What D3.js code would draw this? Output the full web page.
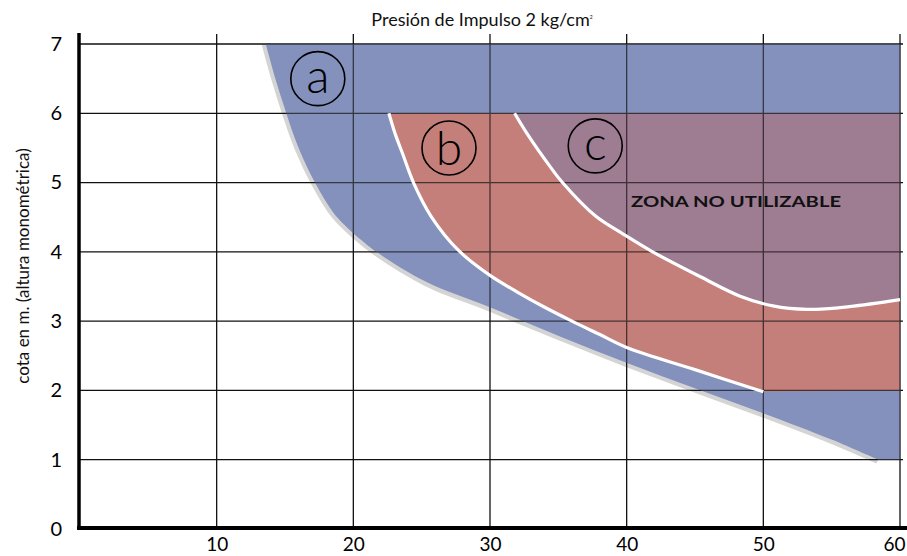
<!DOCTYPE html>
<html><head><meta charset="utf-8">
<script src="https://cdn.jsdelivr.net/npm/d3@7"></script>
<style>
html,body{margin:0;padding:0;background:#fff;}
svg{display:block;font-family:Lato,"Open Sans",sans-serif;}
</style></head>
<body>
<svg id="chart" width="907" height="556"></svg>
<script>
// ---- data ----
const xTicks = [10, 20, 30, 40, 50, 60];
const yTicks = [0, 1, 2, 3, 4, 5, 6, 7];
const title = "Presión de Impulso 2 kg/cm";
const yLabel = "cota en m. (altura monométrica)";
const zoneLabel = "ZONA NO UTILIZABLE";
// boundary of zone a (blue): upper and lower part (kink at x=20)
const curveAtop = [[13.6,7],[14.3,6.5],[15.1,6.0],[16.0,5.5],[17.2,5.0],[18.6,4.55],[20,4.27]];
const curveAbot = [[20,4.27],[21.7,4.0],[25.4,3.56],[30,3.2],[35,2.79],[40,2.40],[45,2.03],[50,1.67],[55,1.29],[58.4,1.0]];
const aEnd = [[60,1],[60,7]];
// boundary of zone b (red)
const curveB = [[22.6,6],[23.05,5.71],[23.6,5.42],[24.4,5],[25.7,4.51],[27.7,4.02],[30,3.66],[32,3.42],[34,3.2],[36,3.0],[38,2.81],[40,2.62],[45,2.3],[50,1.98]];
const bEnd = [[60,2],[60,6]];
// boundary of zone c (purple)
const curveC = [[31.8,6],[32.7,5.71],[34.4,5.23],[35.3,5],[37.7,4.52],[39.8,4.25],[41.9,4.0],[45.4,3.64],[48.3,3.36],[50.7,3.22],[53.2,3.17],[56.3,3.21],[60,3.31]];
const cEnd = [[60,6]];
const zoneNames = ["a","b","c"];
const zonePos = [[17.4,6.5],[27.0,5.5],[37.7,5.53]];
const zonePosLabel = [48.0, 4.65];

// ---- scales ----
const svg = d3.select("#chart");
const x = d3.scaleLinear().domain([0,60]).range([80,900]);
const y = d3.scaleLinear().domain([0,7]).range([529,44]);

const line = d3.line().x(d=>x(d[0])).y(d=>y(d[1])).curve(d3.curveCatmullRom.alpha(0.5));
const lin = d3.line().x(d=>x(d[0])).y(d=>y(d[1]));
const cont = p => p.replace(/^M/,"L");
const pathA = line(curveAtop) + cont(line(curveAbot));
function area(path, end){ return path + cont(lin(end)) + "Z"; }

const colors = {a:"#8391BC", b:"#C47F7A", c:"#9E7D93"};

// gray outline under zone a
svg.append("path").attr("d", pathA).attr("fill","none")
  .attr("stroke","#d4d4d4").attr("stroke-width",8.5).attr("stroke-linejoin","round");

const areas = [area(pathA,aEnd), area(line(curveB),bEnd), area(line(curveC),cEnd)];
const fills = svg.append("g");
fills.selectAll("path").data(areas).join("path").attr("d",d=>d)
  .attr("fill",(d,i)=>colors[zoneNames[i]]);

// grid
const grid = svg.append("g").attr("stroke","#111").attr("stroke-width",1.3);
grid.selectAll("line.h").data(yTicks.filter(d=>d>0)).join("line").attr("class","h")
  .attr("x1",x(0)).attr("x2",903).attr("y1",d=>y(d)).attr("y2",d=>y(d));
grid.selectAll("line.v").data(xTicks).join("line").attr("class","v")
  .attr("x1",d=>x(d)).attr("x2",d=>x(d)).attr("y1",y(0)).attr("y2",34);

// tint grid lines under fills
const tint = svg.append("g").attr("opacity",0.3);
tint.selectAll("path").data(areas).join("path").attr("d",d=>d)
  .attr("fill",(d,i)=>colors[zoneNames[i]]);

// white boundary lines
svg.append("path").attr("d", line(curveB)).attr("fill","none").attr("stroke","#fff").attr("stroke-width",3.2);
svg.append("path").attr("d", line(curveC)).attr("fill","none").attr("stroke","#fff").attr("stroke-width",3.2);

// axes
svg.append("line").attr("x1",79).attr("x2",79).attr("y1",33).attr("y2",530)
  .attr("stroke","#000").attr("stroke-width",3.5);
svg.append("line").attr("x1",77).attr("x2",907).attr("y1",528).attr("y2",528)
  .attr("stroke","#000").attr("stroke-width",4);

const xAxis = svg.append("g").attr("transform","translate(0,528)")
  .call(d3.axisBottom(x).tickValues(xTicks).tickFormat(d3.format("d")).tickSize(0).tickPadding(10));
xAxis.select(".domain").remove();
xAxis.selectAll("text").attr("font-size",19).attr("fill","#000").attr("font-family","Lato,sans-serif")
  .attr("dx",d=>d===60?-6:0);

const yAxis = svg.append("g").attr("transform","translate(80,0)")
  .call(d3.axisLeft(y).tickValues(yTicks).tickFormat(d3.format("d")).tickSize(0).tickPadding(18));
yAxis.select(".domain").remove();
yAxis.selectAll("text").attr("font-size",20).attr("fill","#000").attr("font-family","Lato,sans-serif");

// title
const t = svg.append("text").attr("x",482).attr("y",26).attr("text-anchor","middle")
  .attr("font-size",18).attr("fill","#111").text(title);
t.append("tspan").attr("font-size",5).attr("dy",-7).text("2");

// y label
svg.append("text").attr("transform","translate(29,266) rotate(-90)")
  .attr("text-anchor","middle").attr("font-size",17).attr("fill","#111").text(yLabel);

// zone labels
const zl = svg.append("g");
zoneNames.forEach((n,i)=>{
  const cx = x(zonePos[i][0]), cy = y(zonePos[i][1]);
  zl.append("circle").attr("cx",cx).attr("cy",cy).attr("r",27)
    .attr("fill","none").attr("stroke","#000").attr("stroke-width",1.6);
  zl.append("text").attr("x",cx).attr("y",cy + (n==="b"?17:14)).attr("text-anchor","middle")
    .attr("font-size",48).attr("font-weight",300).attr("fill","#000").text(n);
});

svg.append("text").attr("x",x(zonePosLabel[0])).attr("y",y(zonePosLabel[1]))
  .attr("text-anchor","middle").attr("font-size",16).attr("font-weight",700)
  .attr("textLength",210).attr("lengthAdjust","spacingAndGlyphs")
  .attr("fill","#111").text(zoneLabel);
</script>
</body></html>
